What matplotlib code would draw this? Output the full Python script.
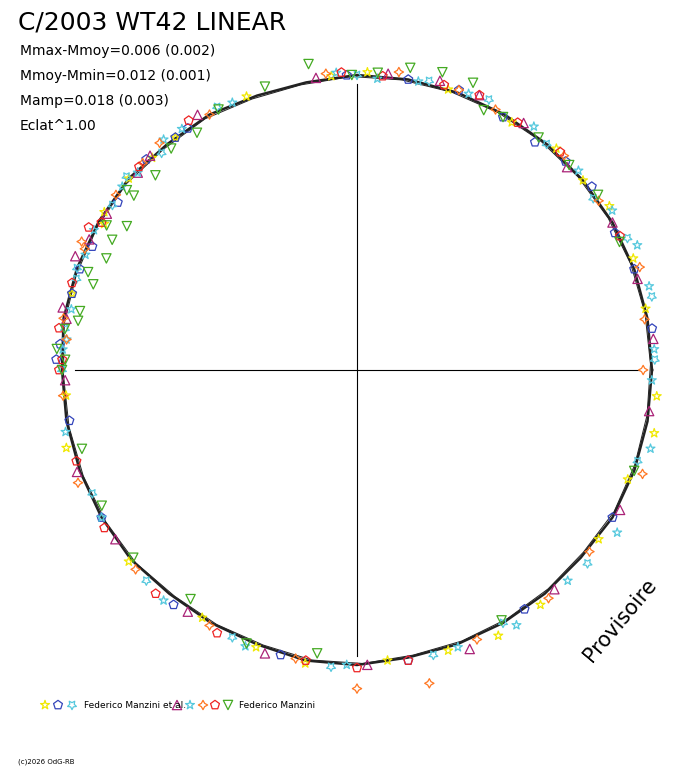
import numpy as np
import matplotlib.pyplot as plt

# phase angle (deg, 0 = right, counter-clockwise) and relative radius of each observation
yel_ang = [95, 88, 72, 58, 48, 40, 33, 22, 12, -5, -12, -22, -35, -52, -62, -72, -84, -100, -110, -122, -140, -165, -175, -195, -212, -226, 128, 140, 150, 112]
yel_r = [1.00, 1.01, 1.00, 0.99, 1.01, 1.00, 1.02, 1.01, 1.00, 1.02, 1.03, 0.99, 1.00, 1.01, 1.02, 1.00, 0.99, 1.01, 1.00, 0.99, 1.01, 1.02, 0.99, 1.00, 1.01, 1.00, 1.00, 1.01, 0.99, 1.00]
blu_ang = [92, 80, 70, 60, 52, 45, 38, 28, 20, 8, -30, -55, -80, -105, -128, -150, -170, -185, -200, -215, -232, 125, 135, 155, 165, 178]
blu_r = [1.00, 1.00, 1.01, 0.99, 0.98, 1.00, 1.01, 0.99, 1.00, 1.01, 1.00, 0.99, 1.00, 1.00, 1.01, 1.00, 0.99, 1.01, 1.00, 0.99, 1.00, 1.00, 1.01, 0.99, 1.00, 1.02]
cya2_ang = [90, 76, 64, 50, 36, 26, 14, 2, -18, -40, -60, -75, -95, -115, -135, -155, -180, -198, -220, 118, 132, 146, 160, 172]
cya2_r = [1.00, 1.01, 1.02, 1.00, 0.99, 1.02, 1.03, 1.01, 1.00, 1.02, 0.99, 1.00, 1.01, 1.00, 1.01, 0.99, 1.00, 1.00, 1.02, 1.01, 0.99, 1.00, 1.01, 1.00]
pur_ang = [98, 84, 74, 66, 56, 44, 30, 18, 6, -8, -28, -48, -68, -88, -108, -125, -145, -160, -178, -192, -206, -222, 122, 134, 148, 158, 170]
pur_r = [1.00, 1.01, 1.02, 1.02, 1.01, 0.99, 1.00, 1.00, 1.01, 1.00, 1.01, 1.00, 1.02, 1.00, 1.01, 1.00, 1.00, 1.01, 0.99, 1.02, 1.01, 1.00, 1.02, 1.01, 1.00, 1.03, 1.00]
cya_ang = [94, 86, 78, 68, 54, 42, 32, 24, 16, 4, -2, -15, -32, -45, -58, -70, -92, -112, -130, -150, -168, -186, -203, -218, -230, 115, 126, 138, 152, 168, 176]
cya_r = [1.01, 0.99, 1.00, 1.01, 1.02, 1.01, 1.02, 1.04, 1.03, 1.01, 1.00, 1.03, 1.04, 1.01, 1.02, 1.00, 1.00, 1.01, 1.02, 1.00, 1.01, 0.99, 1.00, 1.01, 1.02, 1.00, 1.01, 1.00, 1.01, 0.99, 1.00]
ora_ang = [96, 82, 70, 62, 46, 35, 20, 10, 0, -20, -38, -50, -66, -77, -90, -102, -120, -138, -158, -175, -190, -205, -224, 120, 131, 144, 156, 174]
ora_r = [1.01, 1.02, 1.01, 1.00, 1.01, 1.00, 1.02, 0.99, 0.97, 1.03, 1.00, 1.01, 1.00, 1.09, 1.08, 1.00, 1.00, 1.01, 1.02, 1.00, 1.01, 1.03, 1.01, 1.00, 1.02, 1.01, 1.01, 0.99]
red_ang = [93, 85, 73, 66, 57, 47, 27, -100, -90, -80, -118, -132, -148, -162, -180, -188, -208, 124, 137, 150, 163, 178]
red_r = [1.01, 1.00, 1.01, 1.02, 1.00, 1.01, 1.00, 1.00, 1.01, 1.00, 1.01, 1.02, 1.01, 1.00, 1.01, 1.02, 1.03, 1.02, 1.01, 1.00, 1.01, 1.00]
grn_ang = [99, 91, 86, 80, 74, 68, 64, 60, 52, 44, 36, 26, -20, -60, -98, -112, -126, -140, -152, -164, -182, -190, -200, -210, -218, 108, 118, 124, 130, 136, 142, 148, 152, 156, 162, 168, 172, 176, 180]
grn_r = [1.05, 1.00, 1.01, 1.04, 1.05, 1.05, 0.98, 0.99, 1.00, 1.00, 1.01, 0.99, 1.00, 0.98, 0.97, 1.00, 0.96, 0.99, 0.98, 0.97, 0.99, 0.96, 0.97, 0.98, 0.99, 1.01, 1.00, 0.97, 0.98, 0.95, 0.96, 0.92, 0.94, 0.93, 0.94, 0.96, 1.00, 1.02, 1.00]

# mean light curve (every 10 deg)
fit_ang = list(range(0, 361, 10))
fit_r = [1.00, 1.00, 1.00, 1.00, 1.00, 1.00, 1.00, 1.00, 1.00, 1.00, 0.99, 0.99, 1.00, 1.00,
         1.01, 1.01, 1.01, 1.01, 1.00, 1.00, 1.00, 1.00, 1.00, 0.99, 0.99, 0.99, 1.00, 1.00,
         0.99, 0.99, 0.99, 0.99, 0.99, 1.00, 1.00, 1.00, 1.00]

series = [
    (yel_ang, yel_r, '#f0e800', '*'),
    (blu_ang, blu_r, '#3344bb', 'p'),
    (cya2_ang, cya2_r, '#55c8dd', (5, 1, 180)),
    (pur_ang, pur_r, '#aa2277', '^'),
    (cya_ang, cya_r, '#55c8dd', '*'),
    (ora_ang, ora_r, '#ff7722', (4, 1, 0)),
    (red_ang, red_r, '#ee2222', 'p'),
    (grn_ang, grn_r, '#44aa22', 'v'),
]

R = 295.0
fig = plt.figure(figsize=(6.88, 7.68), dpi=100)
ax = fig.add_axes([(357 - 330) / 688, (398 - 330) / 768, 660 / 688, 660 / 768])
lim = 330 / R
ax.set_xlim(-lim, lim)
ax.set_ylim(-lim, lim)
ax.axis('off')

ax.plot([-0.956, 0.956], [0, 0], color='black', lw=0.8)
ax.plot([0, 0], [-0.97, 0.97], color='black', lw=0.8)

fa = np.radians(fit_ang)
fr = np.array(fit_r)
ax.plot(fr * np.cos(fa), fr * np.sin(fa), color='#222222', lw=1.8, zorder=3)
ax.plot(0.995 * fr * np.cos(fa + 0.02), 0.995 * fr * np.sin(fa + 0.02), color='#222222', lw=0.7, zorder=3)

for ang, r, col, mk in series:
    a = np.radians(ang)
    r = np.array(r)
    ax.scatter(r * np.cos(a), r * np.sin(a), s=45, marker=mk, facecolors='none',
               edgecolors=col, linewidths=0.9, zorder=4)

fig.text(18 / 688, 1 - 22 / 768, 'C/2003 WT42 LINEAR', fontsize=18, va='center')
for i, t in enumerate(['Mmax-Mmoy=0.006 (0.002)', 'Mmoy-Mmin=0.012 (0.001)',
                       'Mamp=0.018 (0.003)', 'Eclat^1.00']):
    fig.text(20 / 688, 1 - (51 + 25 * i) / 768, t, fontsize=10, va='center')
fig.text(620 / 688, 1 - 620 / 768, 'Provisoire', fontsize=15, rotation=50,
         ha='center', va='center')
fig.text(18 / 688, 1 - 762 / 768, '(c)2026 OdG-RB', fontsize=5, va='center')

# legend row
lx = [45, 58, 72, 177, 190, 203, 215, 228]
for x, (_, _, c, m) in zip(lx, series):
    ax.scatter([(x - 357) / R], [(370 - 705) / R], s=45, marker=m, facecolors='none',
               edgecolors=c, linewidths=0.9, clip_on=False)
fig.text(84 / 688, 1 - 705 / 768, 'Federico Manzini et al.', fontsize=6.5, va='center')
fig.text(239 / 688, 1 - 705 / 768, 'Federico Manzini', fontsize=6.5, va='center')

fig.savefig('out.png', dpi=100)
